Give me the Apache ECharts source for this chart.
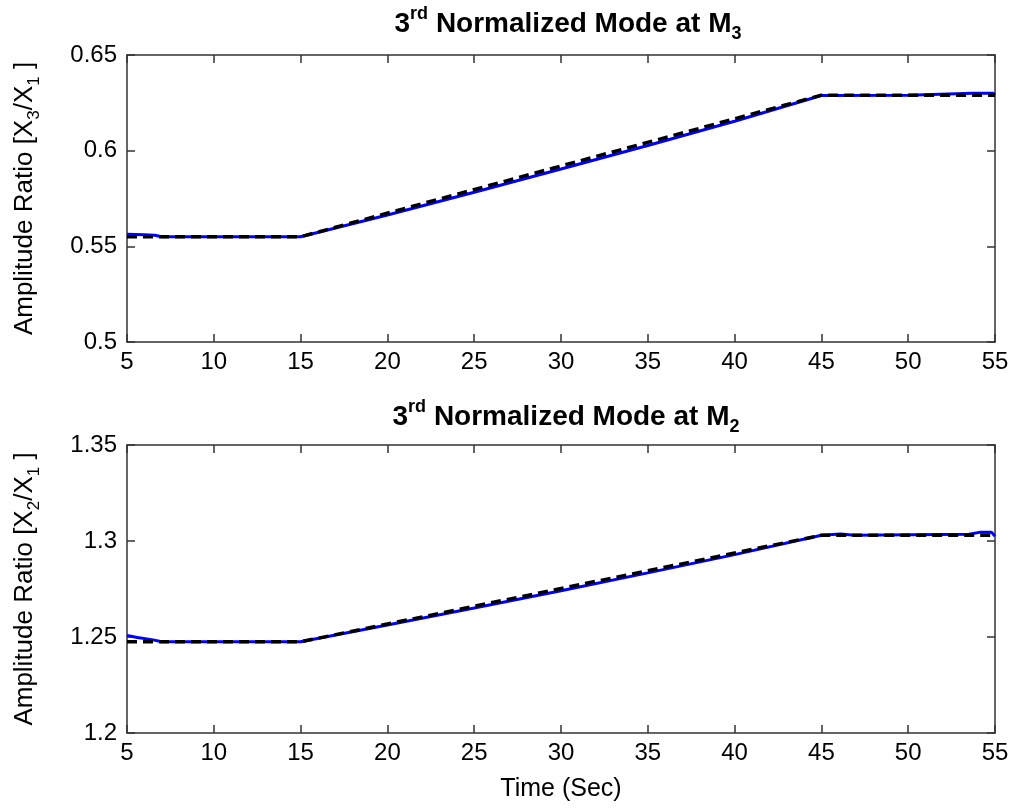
<!DOCTYPE html>
<html><head><meta charset="utf-8">
<script src="https://cdn.jsdelivr.net/npm/echarts@6/dist/echarts.min.js"></script>
<style>html,body{margin:0;padding:0;background:#fff}#c{width:1013px;height:810px}</style>
</head><body><div id="c"></div>
<script>
// ---- data ----
const xTicks = [5,10,15,20,25,30,35,40,45,50,55];
// Top: 3rd normalized mode at M3 (X3/X1)
const topIdealX = [5, 15, 45, 55];
const topIdealY = [0.555, 0.555, 0.629, 0.629];
const topActualX = [5, 6, 6.6, 7, 15, 20, 25, 30, 35, 40, 45, 50, 53.7, 54.9, 55];
const topActualY = [0.5563, 0.5560, 0.5558, 0.5550, 0.5550, 0.5664, 0.5783, 0.5904, 0.6027, 0.6154, 0.6288, 0.6290, 0.6300, 0.6300, 0.6292];
// Bottom: 3rd normalized mode at M2 (X2/X1)
const botIdealX = [5, 15, 45, 55];
const botIdealY = [1.2475, 1.2475, 1.3030, 1.3030];
const botActualX = [5, 5.6, 6.5, 7, 15, 20, 25, 30, 35, 40, 45, 46.1, 46.9, 53.5, 54.1, 54.8, 55];
const botActualY = [1.2508, 1.2497, 1.2485, 1.2475, 1.2475, 1.2563, 1.2651, 1.2741, 1.2834, 1.2929, 1.3030, 1.3036, 1.3030, 1.3035, 1.3045, 1.3045, 1.3025];
const topYTicks = [0.5, 0.55, 0.6, 0.65];
const botYTicks = [1.2, 1.25, 1.3, 1.35];

function pairs(xs, ys){ return xs.map((x,i)=>[x, ys[i]]); }

const FONT = 'Liberation Sans, Arial, sans-serif';
const FS = 24;
const AX = '#333';
const L = 127, R = 18;
const grids = [
  {left: L, right: R, top: 55, height: 287},
  {left: L, right: R, top: 445, height: 288}
];

function xAx(gi, pos, show){
  return {
    type:'value', gridIndex: gi, position: pos, min: 5, max: 55, interval: 5,
    axisLine:{show:true, onZero:false, lineStyle:{color:AX, width:1.5}},
    axisTick:{show:true, inside:true, length:8, lineStyle:{color:AX, width:1.5}},
    axisLabel:{show:show, color:'#000', fontSize:FS, fontFamily:FONT, margin:8},
    splitLine:{show:false}
  };
}
function yAx(gi, pos, show, mn, mx, nameRich){
  return {
    type:'value', gridIndex: gi, position: pos, min: mn, max: mx, interval: 0.05,
    axisLine:{show:true, onZero:false, lineStyle:{color:AX, width:1.5}},
    axisTick:{show:true, inside:true, length:8, lineStyle:{color:AX, width:1.5}},
    axisLabel:{show:show, color:'#000', fontSize:FS, fontFamily:FONT, margin:10,
      formatter: v => String(parseFloat(v.toFixed(4)))},
    splitLine:{show:false},
    name: nameRich || '', nameLocation:'middle', nameGap: 84, nameRotate: 90,
    nameTextStyle:{ rich:{
      n:{fontSize:26, fontFamily:FONT, color:'#000', lineHeight:36, verticalAlign:'middle'},
      s:{fontSize:17, fontFamily:FONT, color:'#000', lineHeight:16, verticalAlign:'bottom'}
    }}
  };
}

const titleRich = {
  b:{fontSize:28, fontWeight:'bold', fontFamily:FONT, color:'#000', lineHeight:38, verticalAlign:'middle'},
  sup:{fontSize:18, fontWeight:'bold', fontFamily:FONT, color:'#000', lineHeight:18, verticalAlign:'top'},
  sub:{fontSize:18, fontWeight:'bold', fontFamily:FONT, color:'#000', lineHeight:18, verticalAlign:'bottom'}
};

const option = {
  backgroundColor:'#fff',
  animation:false,
  title:[
    {text:'{b|3}{sup|rd}{b| Normalized Mode at M}{sub|3}', left:563, textAlign:'center', top:0,
     textStyle:{rich:titleRich}},
    {text:'{b|3}{sup|rd}{b| Normalized Mode at M}{sub|2}', left:561, textAlign:'center', top:393,
     textStyle:{rich:titleRich}}
  ],
  grid: grids,
  xAxis:[
    xAx(0,'bottom',true), xAx(0,'top',false),
    Object.assign(xAx(1,'bottom',true), {name:'Time (Sec)', nameLocation:'middle', nameGap:44,
      nameTextStyle:{fontSize:FS+1, fontFamily:FONT, color:'#000'}}),
    xAx(1,'top',false)
  ],
  yAxis:[
    yAx(0,'left',true,0.5,0.65,'{n|Amplitude Ratio [X}{s|3}{n|/X}{s|1}{n| ]}'),
    yAx(0,'right',false,0.5,0.65),
    yAx(1,'left',true,1.2,1.35,'{n|Amplitude Ratio [X}{s|2}{n|/X}{s|1}{n| ]}'),
    yAx(1,'right',false,1.2,1.35)
  ],
  series:[
    {type:'line', xAxisIndex:0, yAxisIndex:0, data:pairs(topActualX, topActualY), showSymbol:false,
     lineStyle:{color:'#0000ff', width:3}, z:2},
    {type:'line', xAxisIndex:0, yAxisIndex:0, data:pairs(topIdealX, topIdealY), showSymbol:false,
     lineStyle:{color:'#000', width:3.5, type:[10,6]}, z:3},
    {type:'line', xAxisIndex:2, yAxisIndex:2, data:pairs(botActualX, botActualY), showSymbol:false,
     lineStyle:{color:'#0000ff', width:3}, z:2},
    {type:'line', xAxisIndex:2, yAxisIndex:2, data:pairs(botIdealX, botIdealY), showSymbol:false,
     lineStyle:{color:'#000', width:3.5, type:[10,6]}, z:3}
  ]
};
echarts.init(document.getElementById('c')).setOption(option);
</script></body></html>
